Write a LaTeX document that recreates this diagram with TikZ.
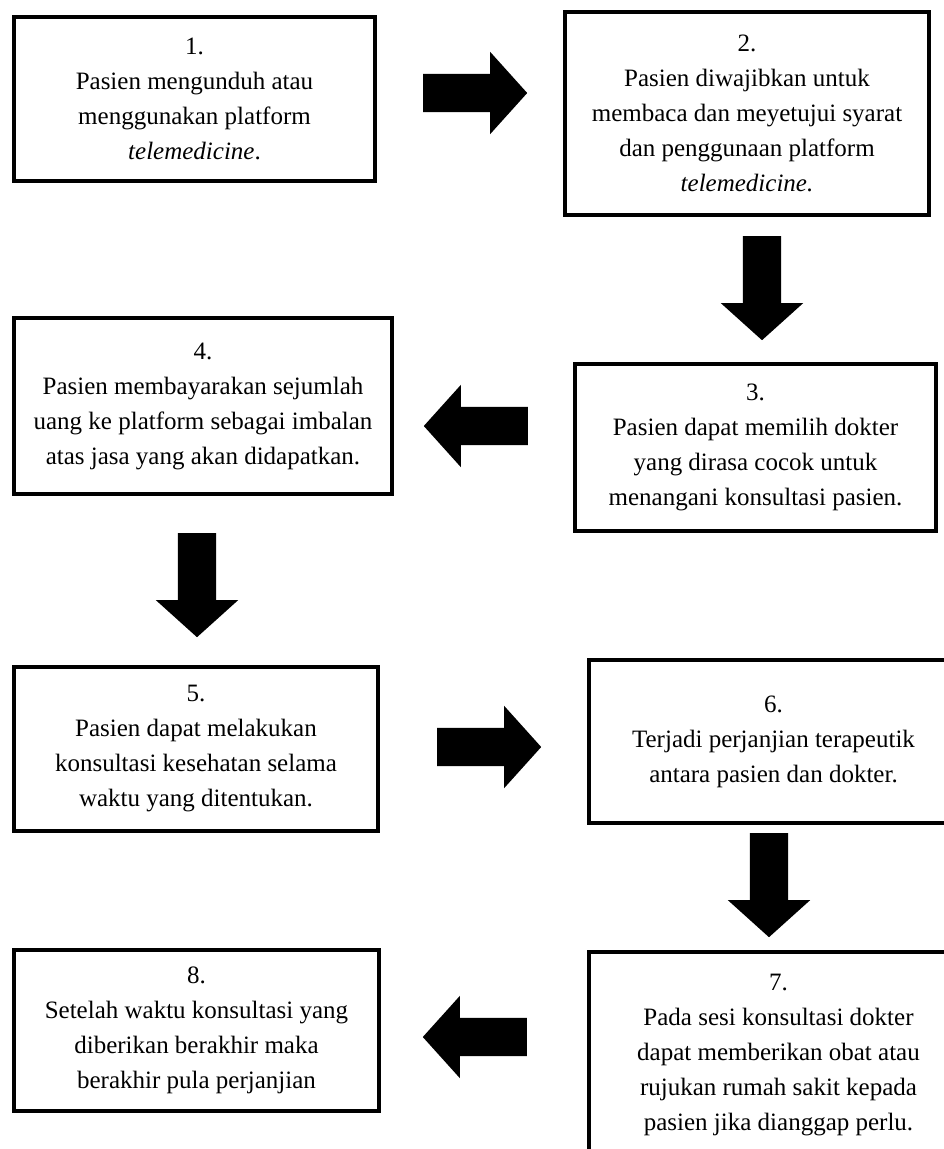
\documentclass[tikz,border=0pt]{standalone}
\usepackage{fontspec}
\setmainfont{Liberation Serif}
\usepackage{tikz}
\usetikzlibrary{shapes.arrows}

\newcommand{\stepfont}{\fontsize{25}{35}\selectfont}

\tikzset{
  stepbox/.style={draw, line width=3.5pt, align=center, inner sep=0pt, font=\stepfont},
  blockarrow/.style={single arrow, fill=black, draw=none, inner xsep=0pt, inner ysep=19pt,
    minimum height=104pt, single arrow head extend=22pt,
    single arrow tip angle=96, anchor=tail},
}

\begin{document}
\begin{tikzpicture}[x=1pt, y=-1pt]
    \clip (0,0) rectangle (944,1149);
    % steps
    \node[stepbox, minimum width=361pt, minimum height=164pt] (s1) at (194.5,99) {1.\\Pasien mengunduh atau\\menggunakan platform\\\textit{telemedicine}.};
    \node[stepbox, minimum width=364pt, minimum height=203pt] (s2) at (747,113.5) {2.\\Pasien diwajibkan untuk\\membaca dan meyetujui syarat\\dan penggunaan platform\\\textit{telemedicine.}};
    \node[stepbox, minimum width=361pt, minimum height=167pt] (s3) at (755.5,447.5) {3.\\Pasien dapat memilih dokter\\yang dirasa cocok untuk\\menangani konsultasi pasien.};
    \node[stepbox, minimum width=378pt, minimum height=176pt] (s4) at (203,406) {4.\\Pasien membayarakan sejumlah\\uang ke platform sebagai imbalan\\atas jasa yang akan didapatkan.};
    \node[stepbox, minimum width=364pt, minimum height=164pt] (s5) at (196,749) {5.\\Pasien dapat melakukan\\konsultasi kesehatan selama\\waktu yang ditentukan.};
    \node[stepbox, minimum width=369pt, minimum height=163pt] (s6) at (773.5,741.5) {6.\\Terjadi perjanjian terapeutik\\antara pasien dan dokter.};
    \node[stepbox, minimum width=379pt, minimum height=206pt] (s7) at (778.5,1055) {7.\\Pada sesi konsultasi dokter\\dapat memberikan obat atau\\rujukan rumah sakit kepada\\pasien jika dianggap perlu.};
    \node[stepbox, minimum width=365pt, minimum height=161pt] (s8) at (196.5,1030.5) {8.\\Setelah waktu konsultasi yang\\diberikan berakhir maka\\berakhir pula perjanjian};
    % arrows
    \node[blockarrow] (a12) at (423,93) {};
    \node[blockarrow, rotate=-90] (a23) at (762,236) {};
    \node[blockarrow, rotate=180] (a34) at (528,426) {};
    \node[blockarrow, rotate=-90] (a45) at (197,533) {};
    \node[blockarrow] (a56) at (437,747) {};
    \node[blockarrow, rotate=-90] (a67) at (769,833) {};
    \node[blockarrow, rotate=180] (a78) at (527,1037) {};
\end{tikzpicture}
\end{document}
